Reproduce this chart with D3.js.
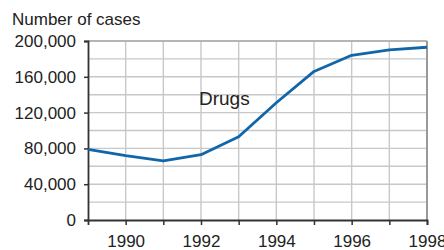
<!DOCTYPE html>
<html>
<head>
<meta charset="utf-8">
<script src="https://cdn.jsdelivr.net/npm/d3@7"></script>
<style>
  body { margin: 0; background: #fff; }
  text { font-family: "Liberation Sans", Arial, sans-serif; fill: #222; }
</style>
</head>
<body>
<svg width="444" height="250"></svg>
<script>
var years = [1989, 1990, 1991, 1992, 1993, 1994, 1995, 1996, 1997, 1998];
var cases = [79000, 72000, 66000, 73000, 93000, 131000, 166000, 184000, 190000, 193000];
var yTicks = [0, 40000, 80000, 120000, 160000, 200000];
var yGrid = [20000, 40000, 60000, 80000, 100000, 120000, 140000, 160000, 180000, 200000];
var xLabels = [1990, 1992, 1994, 1996, 1998];

var svg = d3.select("svg"),
    margin = {top: 41, right: 17, bottom: 30, left: 88},
    width = +svg.attr("width") - margin.left - margin.right,
    height = +svg.attr("height") - margin.top - margin.bottom;

var g = svg.append("g").attr("transform", "translate(" + margin.left + "," + margin.top + ")");

var x = d3.scaleLinear().domain([1989, 1998]).range([0, width]);
var y = d3.scaleLinear().domain([0, 200000]).range([height, 0]);

// grid
g.append("g").selectAll("line")
    .data(yGrid)
    .enter().append("line")
    .attr("x1", 0).attr("x2", width)
    .attr("y1", function(d) { return y(d); })
    .attr("y2", function(d) { return y(d); })
    .style("stroke", "#c8c8c8").style("stroke-width", 1.4);

g.append("g").selectAll("line")
    .data(years.slice(1))
    .enter().append("line")
    .attr("y1", 0).attr("y2", height)
    .attr("x1", function(d) { return x(d); })
    .attr("x2", function(d) { return x(d); })
    .style("stroke", "#c8c8c8").style("stroke-width", 1.4);

// top + right border
g.append("line").attr("x1", 0).attr("x2", width).attr("y1", 0).attr("y2", 0)
    .style("stroke", "#aaa").style("stroke-width", 1.6);
g.append("line").attr("x1", width).attr("x2", width).attr("y1", 0).attr("y2", height)
    .style("stroke", "#999").style("stroke-width", 2);

// axes
var yAxis = g.append("g")
    .call(d3.axisLeft(y).tickValues(yTicks).tickSize(4).tickPadding(8)
      .tickFormat(d3.format(",")));
var xAxis = g.append("g")
    .attr("transform", "translate(0," + height + ")")
    .call(d3.axisBottom(x).tickValues(years.slice(1)).tickSize(5).tickPadding(10)
      .tickFormat(function(d) { return xLabels.indexOf(d) >= 0 ? d : ""; }));

[yAxis, xAxis].forEach(function(a) {
  a.select(".domain").style("stroke", "#333").style("stroke-width", 1.8);
  a.selectAll(".tick line").style("stroke", "#333").style("stroke-width", 1.5);
  a.selectAll(".tick text").style("font-size", "17px").style("fill", "#222")
    .style("font-family", "'Liberation Sans', Arial, sans-serif");
});

// line
var line = d3.line()
    .x(function(d, i) { return x(years[i]); })
    .y(function(d) { return y(d); });

g.append("path")
    .datum(cases)
    .attr("d", line)
    .style("fill", "none")
    .style("stroke", "#1166aa")
    .style("stroke-width", 2.8)
    .style("stroke-linejoin", "round");

// labels
svg.append("text").attr("x", 12).attr("y", 25)
    .style("font-size", "17px").text("Number of cases");

svg.append("text").attr("x", 199).attr("y", 105)
    .style("font-size", "19px").text("Drugs");
</script>
</body>
</html>
